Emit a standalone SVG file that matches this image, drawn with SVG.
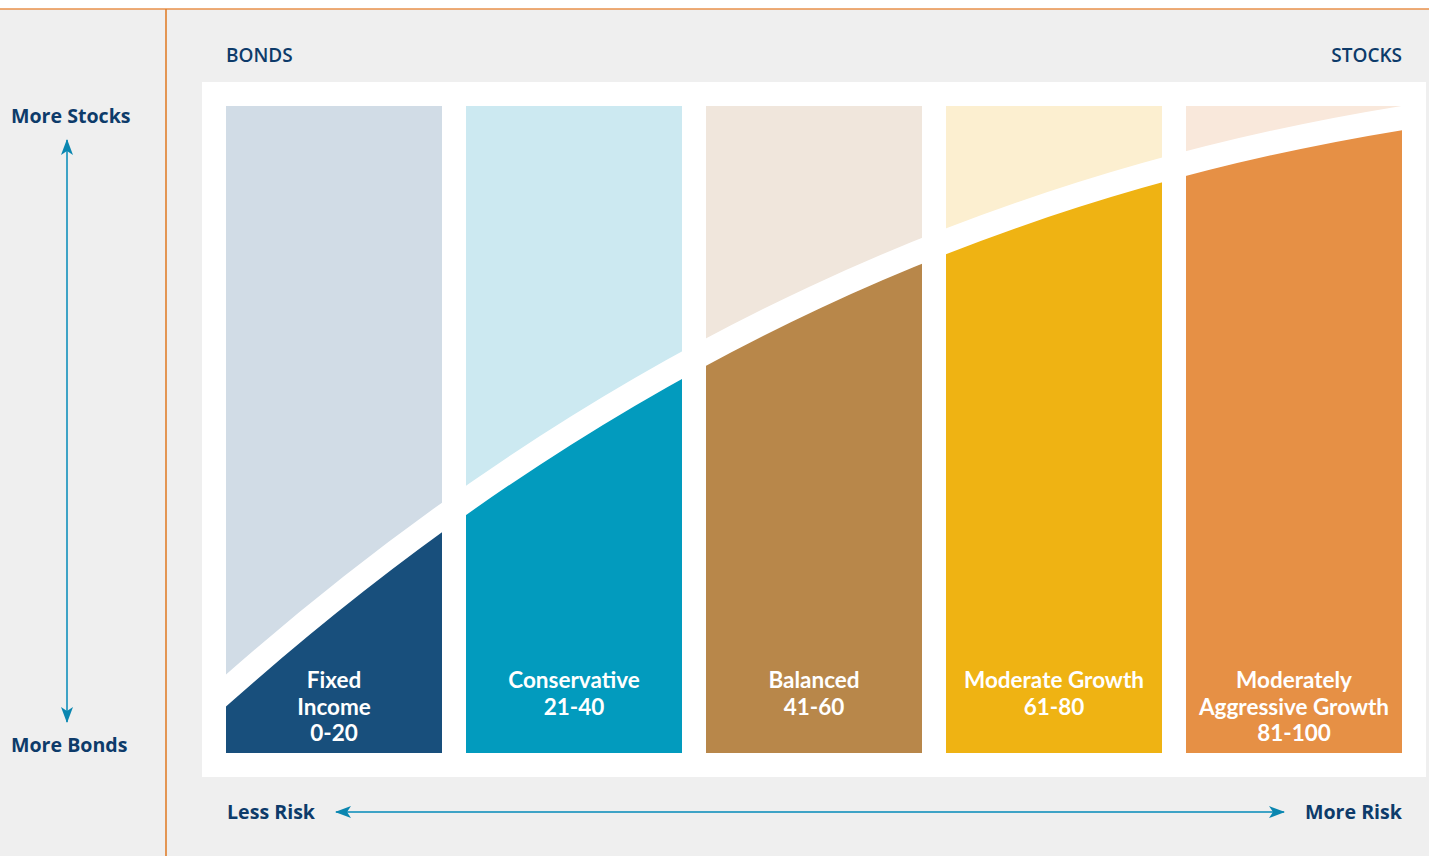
<svg xmlns="http://www.w3.org/2000/svg" width="1429" height="856" viewBox="0 0 1429 856">
<style>
.ax{font-family:"Open Sans","Liberation Sans",sans-serif;font-weight:700;fill:#0d3b6a;font-size:19.6px}
.hd{font-family:"Open Sans","Liberation Sans",sans-serif;font-weight:600;fill:#0d3b6a;font-size:19px}
.lb{font-family:Lato,"Liberation Sans",sans-serif;font-weight:700;fill:#ffffff;font-size:22.5px;text-anchor:middle}
.axl{stroke:#3ea3c6;stroke-width:2;fill:none}
</style>
<defs>
<clipPath id="above"><path d="M196,717.1 L226,690.5 C618,343.1 1010,181.5 1402,118 L1432,113.1 L1432,90 L196,90 Z"/></clipPath>
<clipPath id="cols"><rect x="226" y="106" width="1176" height="647"/></clipPath>
<marker id="ah" viewBox="0 0 16 12" refX="15" refY="6" markerWidth="16" markerHeight="12" markerUnits="userSpaceOnUse" orient="auto-start-reverse"><path d="M0,0 L16,6 L0,12 L4,6 Z" fill="#0a86b0"/></marker>
</defs>
<rect x="0" y="0" width="1429" height="856" fill="#efefef"/>
<rect x="0" y="0" width="1429" height="9" fill="#ffffff"/>
<g id="frame">
<line x1="0" y1="9" x2="1429" y2="9" stroke="#e8914a" stroke-width="1.6"/>
<line x1="166" y1="9" x2="166" y2="856" stroke="#e07f2c" stroke-width="1.6"/>
<rect x="202" y="82" width="1224" height="695" fill="#ffffff"/>
</g>
<g id="col-fixed-income">
<rect x="226" y="106" width="216" height="647" fill="#184f7c"/>
<rect x="226" y="106" width="216" height="647" fill="#d1dce6" clip-path="url(#above)"/>
</g>
<g id="col-conservative">
<rect x="466" y="106" width="216" height="647" fill="#029bbe"/>
<rect x="466" y="106" width="216" height="647" fill="#cce9f1" clip-path="url(#above)"/>
</g>
<g id="col-balanced">
<rect x="706" y="106" width="216" height="647" fill="#b8874a"/>
<rect x="706" y="106" width="216" height="647" fill="#f0e6dc" clip-path="url(#above)"/>
</g>
<g id="col-moderate-growth">
<rect x="946" y="106" width="216" height="647" fill="#efb313"/>
<rect x="946" y="106" width="216" height="647" fill="#fcefd0" clip-path="url(#above)"/>
</g>
<g id="col-aggressive">
<rect x="1186" y="106" width="216" height="647" fill="#e69045"/>
<rect x="1186" y="106" width="216" height="647" fill="#f9e8db" clip-path="url(#above)"/>
</g>
<g id="band" clip-path="url(#cols)">
<path d="M196,717.1 L226,690.5 C618,343.1 1010,181.5 1402,118 L1432,113.1" fill="none" stroke="#ffffff" stroke-width="24"/>
</g>
<g id="labels">
<text class="lb" x="334" y="688">Fixed</text>
<text class="lb" x="334" y="715">Income</text>
<text class="lb" x="334" y="741">0-20</text>
<text class="lb" x="574" y="688">Conservative</text>
<text class="lb" x="574" y="715">21-40</text>
<text class="lb" x="814" y="688">Balanced</text>
<text class="lb" x="814" y="715">41-60</text>
<text class="lb" x="1054" y="688">Moderate Growth</text>
<text class="lb" x="1054" y="715">61-80</text>
<text class="lb" x="1294" y="688">Moderately</text>
<text class="lb" x="1294" y="715">Aggressive Growth</text>
<text class="lb" x="1294" y="741">81-100</text>
</g>
<g id="headings">
<text class="hd" x="226" y="62">BONDS</text>
<text class="hd" x="1402" y="62" text-anchor="end">STOCKS</text>
<text class="ax" x="11" y="123">More Stocks</text>
<text class="ax" x="11" y="752">More Bonds</text>
<text class="ax" x="227" y="819">Less Risk</text>
<text class="ax" x="1402" y="819" text-anchor="end">More Risk</text>
</g>
<g id="connectors">
<line class="axl" x1="67" y1="140" x2="67" y2="722" marker-start="url(#ah)" marker-end="url(#ah)"/>
<line class="axl" x1="336" y1="812" x2="1284" y2="812" marker-start="url(#ah)" marker-end="url(#ah)"/>
</g>
</svg>
